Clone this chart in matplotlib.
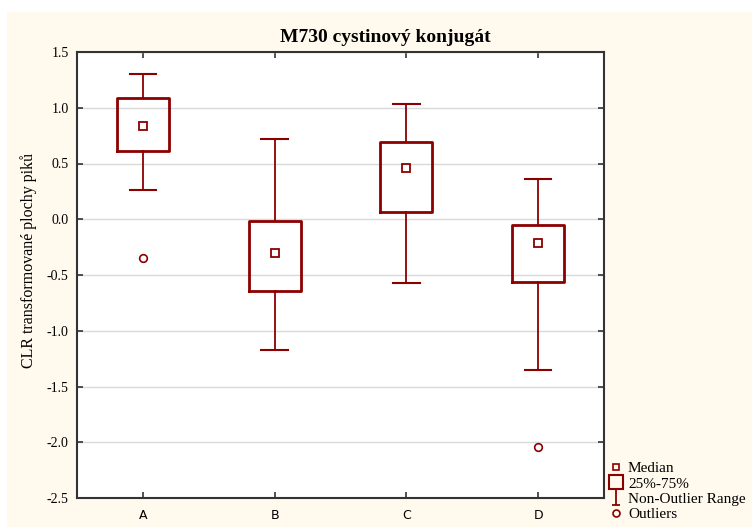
import matplotlib
matplotlib.use('Agg')
import matplotlib.pyplot as plt
import numpy as np
from matplotlib.lines import Line2D
from matplotlib.path import Path
from matplotlib.patches import Rectangle

# box plot summaries for each group
groups = ['A', 'B', 'C', 'D']
medians = [0.84, -0.30, 0.46, -0.215]
q1 = [0.61, -0.645, 0.065, -0.565]
q3 = [1.085, -0.02, 0.695, -0.05]
whisk_lo = [0.26, -1.175, -0.575, -1.35]
whisk_hi = [1.30, 0.72, 1.03, 0.36]
outliers = [[-0.35], [], [], [-2.04]]

dark_red = '#8B0000'
cream = '#FFF9EE'

fig = plt.figure(figsize=(7.52, 5.27), dpi=100)
fig.patch.set_facecolor('white')
fig.patches.append(Rectangle((7/752, 0), 1, (527-12)/527, transform=fig.transFigure,
                             facecolor=cream, edgecolor='none', zorder=-10))

ax = fig.add_axes([77/752, 29/527, 527/752, 446/527])
ax.set_facecolor('white')

stats = []
for i in range(len(groups)):
    stats.append(dict(med=medians[i], q1=q1[i], q3=q3[i], whislo=whisk_lo[i],
                      whishi=whisk_hi[i], fliers=outliers[i], label=groups[i]))

pos = np.arange(1, len(groups) + 1)
ax.bxp(stats, positions=pos, widths=0.395, capwidths=0.2,
       boxprops=dict(color=dark_red, linewidth=2.0),
       whiskerprops=dict(color=dark_red, linewidth=1.3),
       capprops=dict(color=dark_red, linewidth=1.5),
       medianprops=dict(linewidth=0),
       flierprops=dict(marker='o', markersize=5.5, markerfacecolor='none',
                       markeredgecolor=dark_red, markeredgewidth=1.2),
       zorder=3)
ax.plot(pos, medians, linestyle='none', marker='s', markersize=5.2,
        markerfacecolor='none', markeredgecolor=dark_red, markeredgewidth=1.3, zorder=4)

ax.set_xlim(0.5, 4.5)
ax.set_ylim(-2.5, 1.5)
ax.set_yticks(np.arange(-2.5, 1.51, 0.5))
ax.set_yticklabels(['%.1f' % v for v in np.arange(-2.5, 1.51, 0.5)],
                   family='Liberation Serif', fontsize=10)
ax.set_xticks(pos)
ax.set_xticklabels(groups, family='DejaVu Sans', fontsize=9)
ax.yaxis.grid(True, color='#D9D9D9', linewidth=1)
ax.set_axisbelow(True)
ax.tick_params(direction='in', top=True, right=True, length=4, width=1.2, color='#333333')
ax.tick_params(axis='x', pad=8)
ax.tick_params(axis='y', pad=6)
for s in ax.spines.values():
    s.set_color('#333333')
    s.set_linewidth(1.5)

ax.set_title('M730 cystinový konjugát', family='Liberation Serif', fontweight='bold',
             fontsize=14, x=(385 - 77) / 527, pad=7)
ax.set_ylabel('CLR transformované plochy piků', family='Liberation Serif', fontsize=11.5)
ax.yaxis.set_label_coords(-0.075, (498 - 260) / 446)

# I-beam marker for the whisker range entry
ibeam = Path([(-0.5, 1), (0.5, 1), (0, 1), (0, -1), (-0.5, -1), (0.5, -1)],
             [Path.MOVETO, Path.LINETO, Path.MOVETO, Path.LINETO, Path.MOVETO, Path.LINETO])
handles = [
    Line2D([], [], linestyle='none', marker='s', markersize=5, markerfacecolor='none',
           markeredgecolor=dark_red, markeredgewidth=1.2),
    Line2D([], [], linestyle='none', marker='s', markersize=10, markerfacecolor='none',
           markeredgecolor=dark_red, markeredgewidth=1.5),
    Line2D([], [], linestyle='none', marker=ibeam, markersize=12, markerfacecolor='none',
           markeredgecolor=dark_red, markeredgewidth=1.3),
    Line2D([], [], linestyle='none', marker='o', markersize=5, markerfacecolor='none',
           markeredgecolor=dark_red, markeredgewidth=1.2),
]
labels = ['Median', '25%-75%', 'Non-Outlier Range', 'Outliers']
fig.legend(handles, labels, loc='lower left', bbox_to_anchor=(599/752, -0.006),
           frameon=False, prop=dict(family='Liberation Serif', size=11),
           handlelength=1.0, handletextpad=0.3, labelspacing=0.1, borderaxespad=0.2)

fig.savefig('out.png', dpi=100, facecolor=fig.get_facecolor())
